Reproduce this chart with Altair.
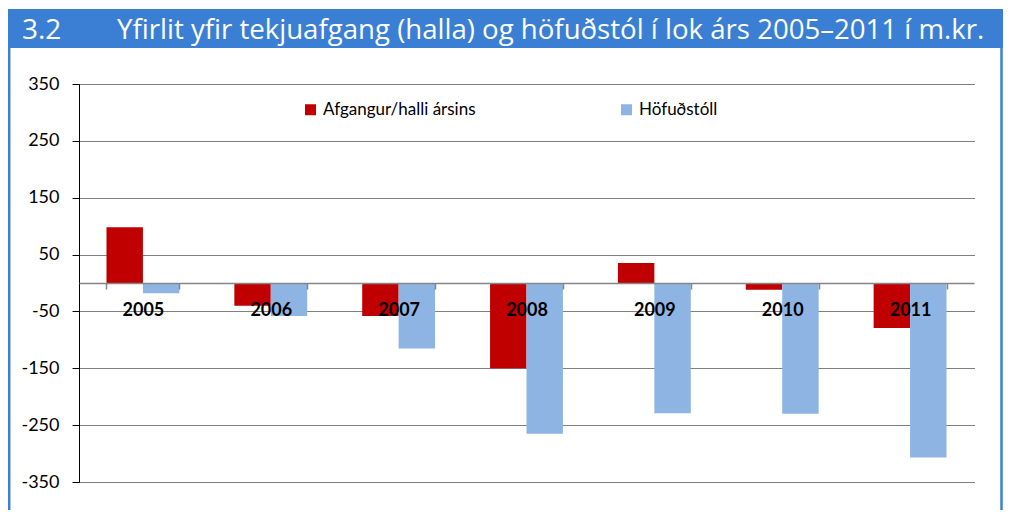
import altair as alt
import pandas as pd

years = ["2005", "2006", "2007", "2008", "2009", "2010", "2011"]
afgangur = [98, -40, -58, -150, 35, -12, -79]
hofudstoll = [-18, -58, -115, -265, -229, -230, -307]
series_names = ["Afgangur/halli ársins", "Höfuðstóll"]
series_colors = ["#C00000", "#8EB4E3"]
y_ticks = [-350, -250, -150, -50, 50, 150, 250, 350]
title_num = "3.2"
title_text = "Yfirlit yfir tekjuafgang (halla) og höfuðstól í lok árs 2005–2011 í m.kr."

rows = []
for y, a, h in zip(years, afgangur, hofudstoll):
    rows.append({"year": y, "series": series_names[0], "value": a})
    rows.append({"year": y, "series": series_names[1], "value": h})
df = pd.DataFrame(rows)

W, H = 895, 398
FRAME = "#3A7FD3"
FONT = "Lato"
TFONT = "Open Sans"

bars = alt.Chart(df).mark_bar().encode(
    x=alt.X("year:N", sort=years, title=None,
            scale=alt.Scale(paddingInner=0.43, paddingOuter=0.215),
            axis=alt.Axis(orient="bottom", offset=-199, tickBand="extent",
                          domainColor="#868686", domainWidth=1.5,
                          tickColor="#868686", tickWidth=1.5, tickSize=6,
                          labelAngle=0, labelFont=FONT, labelFontSize=18,
                          labelFontWeight="bold", labelColor="black",
                          labelBaseline="middle", labelPadding=21,
                          grid=False, zindex=2)),
    xOffset=alt.XOffset("series:N", sort=series_names),
    y=alt.Y("value:Q", title=None,
            scale=alt.Scale(domain=[-350, 350], nice=False, zero=False),
            axis=alt.Axis(values=y_ticks, grid=True, gridColor="#000000",
                          gridDash=[1, 1], gridWidth=1,
                          domainColor="black", domainWidth=1,
                          tickColor="black", tickSize=7,
                          labelExpr="'' + datum.value",
                          labelFont=FONT, labelFontSize=18, labelColor="black",
                          labelPadding=13, zindex=0)),
    color=alt.Color("series:N", sort=series_names,
                    scale=alt.Scale(domain=series_names, range=series_colors),
                    legend=alt.Legend(title=None, orient="none", legendX=223,
                                      legendY=17, direction="horizontal",
                                      symbolType="square", symbolSize=121,
                                      symbolStrokeWidth=0, labelFont=FONT,
                                      labelFontSize=17, labelColor="black",
                                      columnPadding=142, padding=0,
                                      labelOffset=4)),
)

one = alt.Data(values=[{"k": 1}])

title_bar = alt.Chart(one).mark_rect(color=FRAME).encode(
    x=alt.value(-71), x2=alt.value(924), y=alt.value(-75), y2=alt.value(-36)
)
left_border = alt.Chart(one).mark_rule(color=FRAME, strokeWidth=2.5).encode(
    x=alt.value(-69.8), y=alt.value(-37), y2=alt.value(450)
)
right_border = alt.Chart(one).mark_rule(color=FRAME, strokeWidth=2.5).encode(
    x=alt.value(922.5), y=alt.value(-37), y2=alt.value(450)
)
t_num = alt.Chart(one).mark_text(align="left", baseline="alphabetic", color="white",
                                 font=TFONT, fontSize=28).encode(
    x=alt.value(-57), y=alt.value(-45), text=alt.value(title_num)
)
t_main = alt.Chart(one).mark_text(align="left", baseline="alphabetic", color="white",
                                  font=TFONT, fontSize=27.6).encode(
    x=alt.value(38), y=alt.value(-45), text=alt.value(title_text)
)

chart = alt.layer(title_bar, left_border, right_border, t_num, t_main, bars).properties(
    width=W, height=H,
    padding={"left": 71, "top": 76, "right": 29, "bottom": 28},
    autosize=alt.AutoSizeParams(type="none"),
    background="white",
).configure_view(stroke=None)

chart.save("out.html", embed_options={"renderer": "svg", "actions": False})
